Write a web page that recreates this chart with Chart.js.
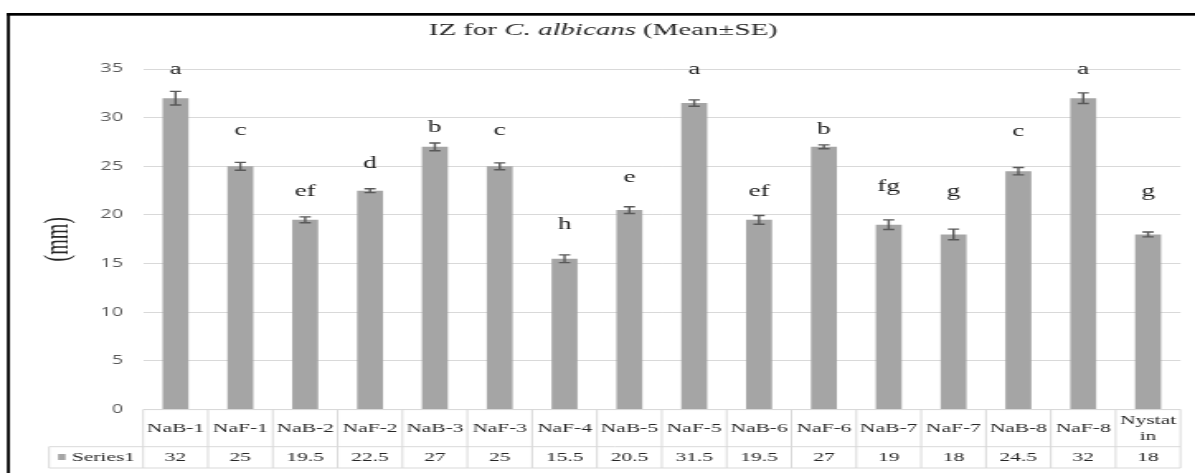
<!DOCTYPE html>
<html>
<head>
<meta charset="utf-8">
<script src="https://cdn.jsdelivr.net/npm/chart.js@4.4.0/dist/chart.umd.min.js"></script>
<style>
html, body { margin: 0; padding: 0; background: #fff; overflow: hidden; }
#myChart { display: block; }
</style>
</head>
<body>
<!-- canvas is drawn narrow and stretched wide, like the original picture -->
<canvas id="myChart" width="724" height="473" style="width:1195px;height:473px"></canvas>
<script>
var categories = ['NaB-1', 'NaF-1', 'NaB-2', 'NaF-2', 'NaB-3', 'NaF-3', 'NaF-4', 'NaB-5',
                  'NaF-5', 'NaB-6', 'NaF-6', 'NaB-7', 'NaF-7', 'NaB-8', 'NaF-8', 'Nystatin'];
var means = [32, 25, 19.5, 22.5, 27, 25, 15.5, 20.5, 31.5, 19.5, 27, 19, 18, 24.5, 32, 18];
var se = [0.7, 0.4, 0.3, 0.2, 0.4, 0.35, 0.4, 0.35, 0.33, 0.45, 0.2, 0.5, 0.55, 0.38, 0.55, 0.25];
var letters = ['a', 'c', 'ef', 'd', 'b', 'c', 'h', 'e', 'a', 'ef', 'b', 'fg', 'g', 'c', 'a', 'g'];
// where each letter sits (baseline, in mm on the y axis)
var letterLevels = [34.5, 28.2, 22.0, 24.8, 28.5, 28.2, 18.6, 23.4, 34.5, 22.0, 28.3, 22.5, 21.9, 28.1, 34.5, 21.9];
var seriesName = 'Series1';

var serif = '"Liberation Serif", "Times New Roman", serif';
var barColor = '#a5a5a5';
var tableLine = '#d9d9d9';

function wrapText(ctx, text, maxW) {
    if (ctx.measureText(text).width <= maxW) return [text];
    var lines = [], cur = '';
    for (var i = 0; i < text.length; i++) {
        if (cur && ctx.measureText(cur + text[i]).width > maxW) {
            lines.push(cur);
            cur = '';
        }
        cur += text[i];
    }
    lines.push(cur);
    return lines;
}

var extras = {
    id: 'extras',
    afterDraw: function (chart) {
        var ctx = chart.ctx;
        var area = chart.chartArea;
        var x = chart.scales.x, y = chart.scales.y;
        var meta = chart.getDatasetMeta(0);
        ctx.save();

        // frame
        ctx.fillStyle = '#000';
        ctx.fillRect(4.2, 13, chart.width, 2.7);
        ctx.fillRect(4.2, 13, 1.8, chart.height);

        // title with italic species name
        var parts = [['IZ for ', ''], ['C. albicans', 'italic '], [' (Mean\u00b1SE)', '']];
        var total = 0;
        parts.forEach(function (p) {
            ctx.font = p[1] + '17.5px ' + serif;
            total += ctx.measureText(p[0]).width;
        });
        var tx = 365.5 - total / 2;
        ctx.fillStyle = '#262626';
        ctx.textBaseline = 'alphabetic';
        ctx.textAlign = 'left';
        parts.forEach(function (p) {
            ctx.font = p[1] + '17.5px ' + serif;
            ctx.fillText(p[0], tx, 35);
            tx += ctx.measureText(p[0]).width;
        });

        // y axis title
        ctx.save();
        ctx.translate(35.5, (area.top + area.bottom) / 2);
        ctx.rotate(-Math.PI / 2);
        ctx.font = '20px ' + serif;
        ctx.textAlign = 'center';
        ctx.textBaseline = 'middle';
        ctx.fillText('(mm)', 0, 0);
        ctx.restore();

        // error bars
        ctx.strokeStyle = '#595959';
        ctx.lineWidth = 1.4;
        meta.data.forEach(function (bar, i) {
            var hi = y.getPixelForValue(means[i] + se[i]);
            var lo = y.getPixelForValue(means[i] - se[i]);
            ctx.beginPath();
            ctx.moveTo(bar.x, hi); ctx.lineTo(bar.x, lo);
            ctx.moveTo(bar.x - 3.4, hi); ctx.lineTo(bar.x + 3.4, hi);
            ctx.moveTo(bar.x - 3.4, lo); ctx.lineTo(bar.x + 3.4, lo);
            ctx.stroke();
        });

        // significance letters
        ctx.font = '16.5px ' + serif;
        ctx.fillStyle = '#1a1a1a';
        ctx.textAlign = 'center';
        ctx.textBaseline = 'alphabetic';
        meta.data.forEach(function (bar, i) {
            ctx.fillText(letters[i], bar.x, y.getPixelForValue(letterLevels[i]));
        });

        // data table under the plot
        var colW = (area.right - area.left) / categories.length;
        var top = area.bottom, mid = 446.7, bot = 468;
        var keyLeft = 29.7;
        ctx.strokeStyle = tableLine;
        ctx.lineWidth = 1;
        ctx.beginPath();
        ctx.moveTo(area.left, top); ctx.lineTo(area.right, top);
        ctx.moveTo(keyLeft, mid); ctx.lineTo(area.right, mid);
        ctx.moveTo(keyLeft, bot); ctx.lineTo(area.right, bot);
        ctx.moveTo(keyLeft, mid); ctx.lineTo(keyLeft, bot);
        for (var c = 0; c <= categories.length; c++) {
            var cx = area.left + c * colW;
            ctx.moveTo(cx, top); ctx.lineTo(cx, bot);
        }
        ctx.stroke();

        ctx.font = '13px ' + serif;
        ctx.fillStyle = '#262626';
        ctx.textAlign = 'center';
        ctx.textBaseline = 'middle';
        categories.forEach(function (name, i) {
            var cx = x.getPixelForValue(i);
            var lines = wrapText(ctx, name, colW - 3);
            var lh = 16;
            var y0 = (top + mid) / 2 - (lines.length - 1) * lh / 2;
            lines.forEach(function (ln, k) {
                ctx.fillText(ln, cx, y0 + k * lh);
            });
            ctx.fillText(String(means[i]), cx, (mid + bot) / 2 + 0.5);
        });

        // legend key + series name
        ctx.fillStyle = barColor;
        ctx.fillRect(35.2, 454, 4.5, 6);
        ctx.fillStyle = '#262626';
        ctx.textAlign = 'left';
        ctx.fillText(seriesName, 43.5, (mid + bot) / 2 + 0.5);

        ctx.restore();
    }
};

var ctx = document.getElementById('myChart').getContext('2d');

var myChart = new Chart(ctx, {
    type: 'bar',
    data: {
        labels: categories,
        datasets: [{
            label: seriesName,
            data: means,
            backgroundColor: barColor,
            barPercentage: 0.4,
            categoryPercentage: 1
        }]
    },
    options: {
        responsive: false,
        animation: false,
        layout: {
            padding: { top: 69, bottom: 63.4, left: 0, right: 8.8 }
        },
        plugins: {
            legend: { display: false },
            tooltip: { enabled: false },
            title: { display: false }
        },
        scales: {
            x: { display: false },
            y: {
                min: 0,
                max: 35,
                ticks: {
                    stepSize: 5,
                    padding: 12.2,
                    color: '#595959',
                    font: { family: '"Open Sans", sans-serif', size: 12 }
                },
                grid: { color: '#d9d9d9', drawTicks: false },
                border: { display: false },
                afterFit: function (scale) { scale.width = 86.7; }
            }
        }
    },
    plugins: [extras]
});
</script>
</body>
</html>
